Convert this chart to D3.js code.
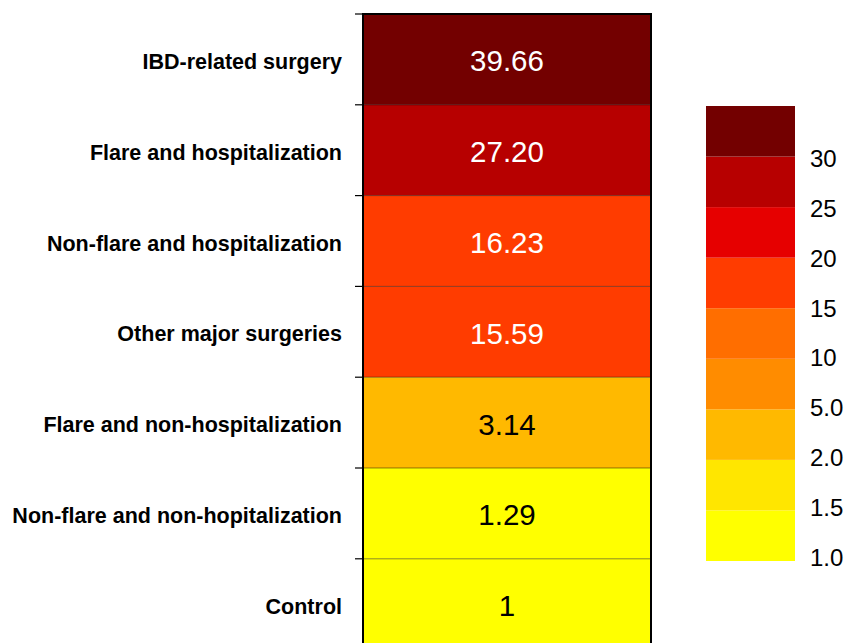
<!DOCTYPE html>
<html>
<head>
<meta charset="utf-8">
<script src="https://cdn.jsdelivr.net/npm/d3@7"></script>
<style>
  body { margin: 0; background: #fff; }
  svg { display: block; }
</style>
</head>
<body>
<div id="chart"></div>
<script>
// data
let categories = [
  "IBD-related surgery",
  "Flare and hospitalization",
  "Non-flare and hospitalization",
  "Other major surgeries",
  "Flare and non-hospitalization",
  "Non-flare and non-hopitalization",
  "Control"
];
let values = [39.66, 27.20, 16.23, 15.59, 3.14, 1.29, 1];
let valueLabels = ["39.66", "27.20", "16.23", "15.59", "3.14", "1.29", "1"];

// legend bins (lower edges) and colours
let binEdges = [1.0, 1.5, 2.0, 5.0, 10, 15, 20, 25, 30];
let binLabels = ["1.0", "1.5", "2.0", "5.0", "10", "15", "20", "25", "30"];
let binColors = ["#ffff00", "#ffe600", "#ffb900", "#ff8c00", "#ff6e00", "#ff3c00", "#e60000", "#b70000", "#730000"];

let width = 847, height = 643;

let svg = d3.select("#chart")
  .append("svg")
  .attr("width", width)
  .attr("height", height);

let colorScale = d3.scaleThreshold()
  .domain(binEdges.slice(1))
  .range(binColors);

let cellLeft = 363, cellRight = 651, cellTop = 14, rowH = 90.8;

let y = d3.scaleBand()
  .domain(categories)
  .range([cellTop, cellTop + rowH * categories.length])
  .padding(0);

let font = "Liberation Sans, Arial, Helvetica, sans-serif";

let rows = svg.append("g").attr("class", "rows");

rows.selectAll("rect")
  .data(categories)
  .enter().append("rect")
    .attr("x", cellLeft)
    .attr("y", function(d) { return y(d); })
    .attr("width", cellRight - cellLeft)
    .attr("height", y.bandwidth())
    .attr("fill", function(d, i) { return colorScale(values[i]); });

// thin separators between rows
rows.selectAll("line.sep")
  .data(categories.slice(1))
  .enter().append("line")
    .attr("class", "sep")
    .attr("x1", cellLeft)
    .attr("x2", cellRight)
    .attr("y1", function(d) { return y(d); })
    .attr("y2", function(d) { return y(d); })
    .attr("stroke", "rgba(0,0,0,0.45)")
    .attr("stroke-width", 1);

// values in cells
rows.selectAll("text")
  .data(categories)
  .enter().append("text")
    .attr("x", (cellLeft + cellRight) / 2)
    .attr("y", function(d) { return y(d) + y.bandwidth() / 2; })
    .attr("dy", "0.41em")
    .attr("text-anchor", "middle")
    .attr("font-family", font)
    .attr("font-size", "29.5px")
    .attr("fill", function(d, i) { return values[i] > 10 ? "#fff" : "#000"; })
    .text(function(d, i) { return valueLabels[i]; });

// border
let bottom = cellTop + rowH * categories.length;
svg.append("path")
  .attr("d", `M${cellLeft},${bottom}V${cellTop}H${cellRight}V${bottom}`)
  .attr("fill", "none")
  .attr("stroke", "#000")
  .attr("stroke-width", 2);

// left axis: ticks at row boundaries, labels at row centres
let axisG = svg.append("g");
axisG.selectAll("line")
  .data(categories)
  .enter().append("line")
    .attr("x1", cellLeft - 8)
    .attr("x2", cellLeft)
    .attr("y1", function(d) { return y(d); })
    .attr("y2", function(d) { return y(d); })
    .attr("stroke", "#000")
    .attr("stroke-width", 1.2);

axisG.selectAll("text")
  .data(categories)
  .enter().append("text")
    .attr("x", 342)
    .attr("y", function(d) { return y(d) + y.bandwidth() / 2; })
    .attr("dy", "0.45em")
    .attr("text-anchor", "end")
    .attr("font-family", font)
    .attr("font-weight", "700")
    .attr("font-size", "21.5px")
    .text(function(d) { return d; });

// legend
let legendX = 706, legendW = 89;
let ly = d3.scaleLinear()
  .domain([0, binEdges.length])
  .range([561, 106]);

// label positions drift slightly from the bin edges in the original
let labelY = d3.scaleLinear()
  .domain([0, binEdges.length - 1])
  .range([557, 158.7]);

let legend = svg.append("g").attr("class", "legend");

legend.selectAll("rect")
  .data(binColors)
  .enter().append("rect")
    .attr("x", legendX)
    .attr("y", function(d, i) { return ly(i + 1); })
    .attr("width", legendW)
    .attr("height", function(d, i) { return ly(i) - ly(i + 1); })
    .attr("fill", function(d) { return d; });

legend.selectAll("text")
  .data(binLabels)
  .enter().append("text")
    .attr("x", 810)
    .attr("y", function(d, i) { return labelY(i); })
    .attr("dy", "0.36em")
    .attr("font-family", font)
    .attr("font-size", "24px")
    .attr("fill", "#000")
    .text(function(d) { return d; });
</script>
</body>
</html>
